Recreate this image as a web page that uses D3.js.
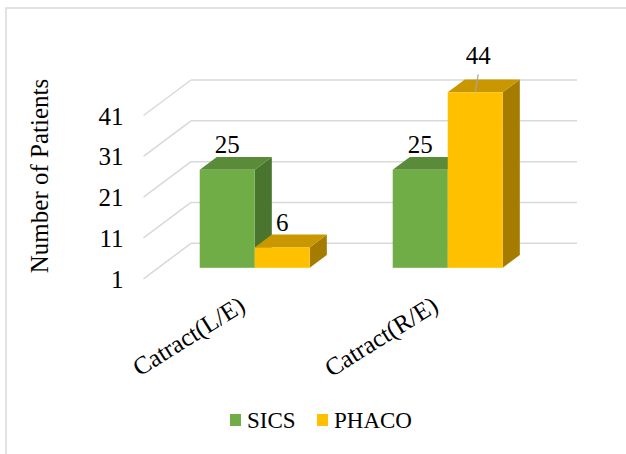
<!DOCTYPE html>
<html>
<head>
<meta charset="utf-8">
<script src="https://cdn.jsdelivr.net/npm/d3@7/dist/d3.min.js"></script>
<style>
  html, body { margin: 0; padding: 0; background: #fff; }
  svg { display: block; font-family: "Liberation Serif", "Times New Roman", serif; }
</style>
</head>
<body>
<svg id="chart" width="626" height="454"></svg>
<script>
// Data
const categories = ["Catract(L/E)", "Catract(R/E)"];
const seriesNames = ["SICS", "PHACO"];
const sicsValues = [25, 25];
const phacoValues = [6, 44];
const tickValues = [1, 11, 21, 31, 41];
const axisTitle = "Number of Patients";

const series = [
  { name: seriesNames[0], values: sicsValues, front: "#70AD47", top: "#5A8B39", side: "#4A752E" },
  { name: seriesNames[1], values: phacoValues, front: "#FFC000", top: "#C99700", side: "#A57C00" }
];

const svg = d3.select("#chart");

// Outer frame
svg.append("rect")
  .attr("x", 6).attr("y", 8).attr("width", 700).attr("height", 600)
  .attr("fill", "none").attr("stroke", "#d9d9d9").attr("stroke-width", 1.5);

// 3D geometry: back wall coordinates plus a depth vector toward the viewer
const wallLeft = 191, wallRight = 577;
const depth = { dx: -47.5, dy: 35.5 };
const barFront = 0.69, barBack = 0.33;

const y = d3.scaleLinear().domain([1, 41]).range([243.3, 80]);
const x0 = d3.scaleBand().domain(categories).range([wallLeft, wallRight]);
const groupW = x0.bandwidth() * 0.57;
const x1 = d3.scaleBand().domain(seriesNames)
  .range([(x0.bandwidth() - groupW) / 2, (x0.bandwidth() + groupW) / 2]);

const P = (x, v, t) => [x + t * depth.dx, y(v) + t * depth.dy];
const poly = pts => "M" + pts.map(p => p.join(",")).join("L") + "Z";

// Gridlines: back wall and left side wall
const grid = svg.append("g").attr("stroke", "#d9d9d9").attr("stroke-width", 1.5).attr("fill", "none");
tickValues.forEach(v => {
  grid.append("line")
    .attr("x1", wallLeft).attr("y1", y(v)).attr("x2", wallRight).attr("y2", y(v));
  const f = P(wallLeft, v, 1);
  grid.append("line")
    .attr("x1", f[0]).attr("y1", f[1]).attr("x2", wallLeft).attr("y2", y(v));
});

// Tick labels at the front-left end of the side-wall lines
svg.append("g").selectAll("text").data(tickValues).join("text")
  .attr("x", P(wallLeft, 1, 1)[0] - 20)
  .attr("y", d => P(wallLeft, d, 1)[1])
  .attr("dy", "0.36em")
  .attr("text-anchor", "end")
  .attr("font-size", 25)
  .attr("fill", "#000")
  .text(d => d);

// Axis title
svg.append("text")
  .attr("transform", "translate(48,176) rotate(-90)")
  .attr("text-anchor", "middle")
  .attr("font-size", 25)
  .attr("fill", "#000")
  .text(axisTitle);

// Bars (drawn left to right so later fronts cover earlier side faces)
const bars = svg.append("g");
const labels = [];
categories.forEach((cat, ci) => {
  series.forEach(s => {
    const v = s.values[ci];
    const xa = x0(cat) + x1(s.name);
    const xb = xa + x1.bandwidth();
    const g = bars.append("g");
    // right side face
    g.append("path")
      .attr("d", poly([P(xb, 1, barFront), P(xb, 1, barBack), P(xb, v, barBack), P(xb, v, barFront)]))
      .attr("fill", s.side);
    // top face
    g.append("path")
      .attr("d", poly([P(xa, v, barFront), P(xb, v, barFront), P(xb, v, barBack), P(xa, v, barBack)]))
      .attr("fill", s.top);
    // front face
    const fa = P(xa, v, barFront), fb = P(xb, 1, barFront);
    g.append("rect")
      .attr("x", fa[0]).attr("y", fa[1])
      .attr("width", fb[0] - fa[0]).attr("height", fb[1] - fa[1])
      .attr("fill", s.front);
    labels.push({ v, cx: (fa[0] + fb[0]) / 2, topFront: fa[1], topBack: P(xa, v, barBack)[1] });
  });
});

// Value labels; the tallest bar's label sits above the frame with a leader line
const lab = svg.append("g").attr("font-size", 25).attr("fill", "#000").attr("text-anchor", "middle");
labels.forEach(d => {
  if (d.v > 41) {
    const by = d.topBack - 15;
    svg.append("line")
      .attr("x1", d.cx + 3).attr("y1", by + 10)
      .attr("x2", d.cx).attr("y2", d.topFront)
      .attr("stroke", "#a6a6a6").attr("stroke-width", 1.2);
    lab.append("text").attr("x", d.cx + 3).attr("y", by).text(d.v);
  } else {
    lab.append("text").attr("x", d.cx).attr("y", d.topBack - 4).text(d.v);
  }
});

// Category labels, rotated
svg.append("g").selectAll("text").data(categories).join("text")
  .attr("transform", d => {
    const c = P(x0(d) + x0.bandwidth() / 2, 1, barFront);
    return `translate(${c[0] - 8},${c[1] + 42}) rotate(-32)`;
  })
  .attr("text-anchor", "end")
  .attr("font-size", 25)
  .attr("fill", "#000")
  .text(d => d);

// Legend
const legend = svg.append("g").attr("font-size", 23);
const legendX = [230, 317];
series.forEach((s, i) => {
  legend.append("rect").attr("x", legendX[i]).attr("y", 414).attr("width", 11).attr("height", 12).attr("fill", s.front);
  legend.append("text").attr("x", legendX[i] + 17).attr("y", 428).attr("fill", "#000").text(s.name);
});
</script>
</body>
</html>
